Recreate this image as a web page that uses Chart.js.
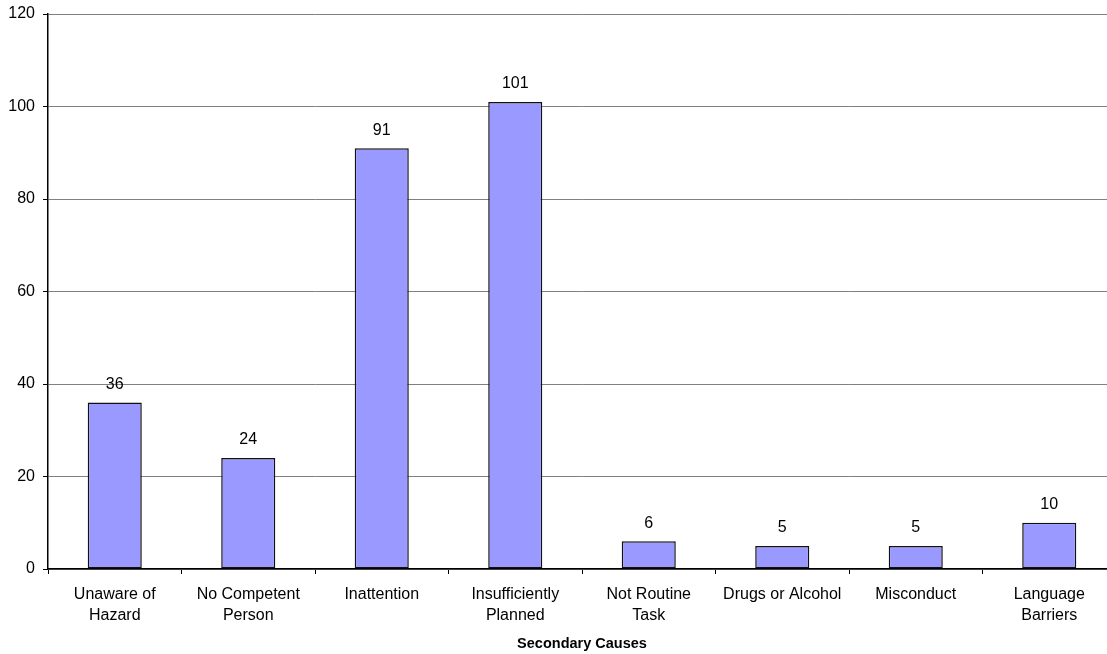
<!DOCTYPE html>
<html>
<head>
<meta charset="utf-8">
<script src="https://cdn.jsdelivr.net/npm/chart.js@4"></script>
<style>
  html, body { margin: 0; padding: 0; background: #fff; overflow: hidden; }
  #wrap { position: absolute; left: 0; top: 0; width: 1130px; height: 654px; }
</style>
</head>
<body>
<div id="wrap"><canvas id="causes"></canvas></div>
<script>
const causes = [
  ['Unaware of', 'Hazard'],
  ['No Competent', 'Person'],
  'Inattention',
  ['Insufficiently', 'Planned'],
  ['Not Routine', 'Task'],
  'Drugs or Alcohol',
  'Misconduct',
  ['Language', 'Barriers']
];
const counts = [36, 24, 91, 101, 6, 5, 5, 10];
const yTicks = [0, 20, 40, 60, 80, 100, 120];

const FONT = 'Liberation Sans, Arial, sans-serif';

// numbers above each bar
const barLabels = {
  id: 'barLabels',
  afterDatasetsDraw(chart) {
    const ctx = chart.ctx;
    const meta = chart.getDatasetMeta(0);
    ctx.save();
    ctx.font = '16px ' + FONT;
    ctx.fillStyle = '#000';
    ctx.textAlign = 'center';
    ctx.textBaseline = 'middle';
    meta.data.forEach((bar, i) => {
      ctx.fillText(String(counts[i]), bar.x, bar.y - 18);
    });
    ctx.restore();
  }
};

new Chart(document.getElementById('causes'), {
  type: 'bar',
  data: {
    labels: causes,
    datasets: [{
      data: counts,
      backgroundColor: '#9999ff',
      borderColor: '#111',
      borderWidth: 1.5,
      borderSkipped: false,
      barPercentage: 0.405,
      categoryPercentage: 1
    }]
  },
  options: {
    responsive: true,
    maintainAspectRatio: false,
    animation: false,
    layout: { padding: { top: 14, right: 14, left: 0, bottom: 0 } },
    plugins: { legend: { display: false }, tooltip: { enabled: false } },
    scales: {
      x: {
        afterFit: s => { s.height = 85; },
        grid: {
          offset: true,
          drawOnChartArea: false,
          color: '#000',
          tickLength: 5
        },
        border: { color: '#000', width: 1.5 },
        ticks: {
          color: '#000',
          font: { family: FONT, size: 16, lineHeight: 1.3 },
          padding: 10,
          maxRotation: 0,
          autoSkip: false
        },
        title: {
          display: true,
          text: 'Secondary Causes',
          color: '#000',
          font: { family: FONT, size: 14.5, weight: 'bold' },
          padding: { top: 0, bottom: 1 }
        }
      },
      y: {
        min: 0,
        max: 120,
        afterFit: s => { s.width = 48; s.paddingTop = 0; s.paddingBottom = 0; },
        afterBuildTicks: s => { s.ticks = yTicks.map(v => ({ value: v })); },
        grid: {
          color: '#808080',
          tickColor: '#000',
          tickLength: 5
        },
        border: { color: '#000', width: 1.5 },
        ticks: {
          color: '#000',
          font: { family: FONT, size: 16 },
          padding: 8
        }
      }
    }
  },
  plugins: [barLabels]
});
</script>
</body>
</html>
